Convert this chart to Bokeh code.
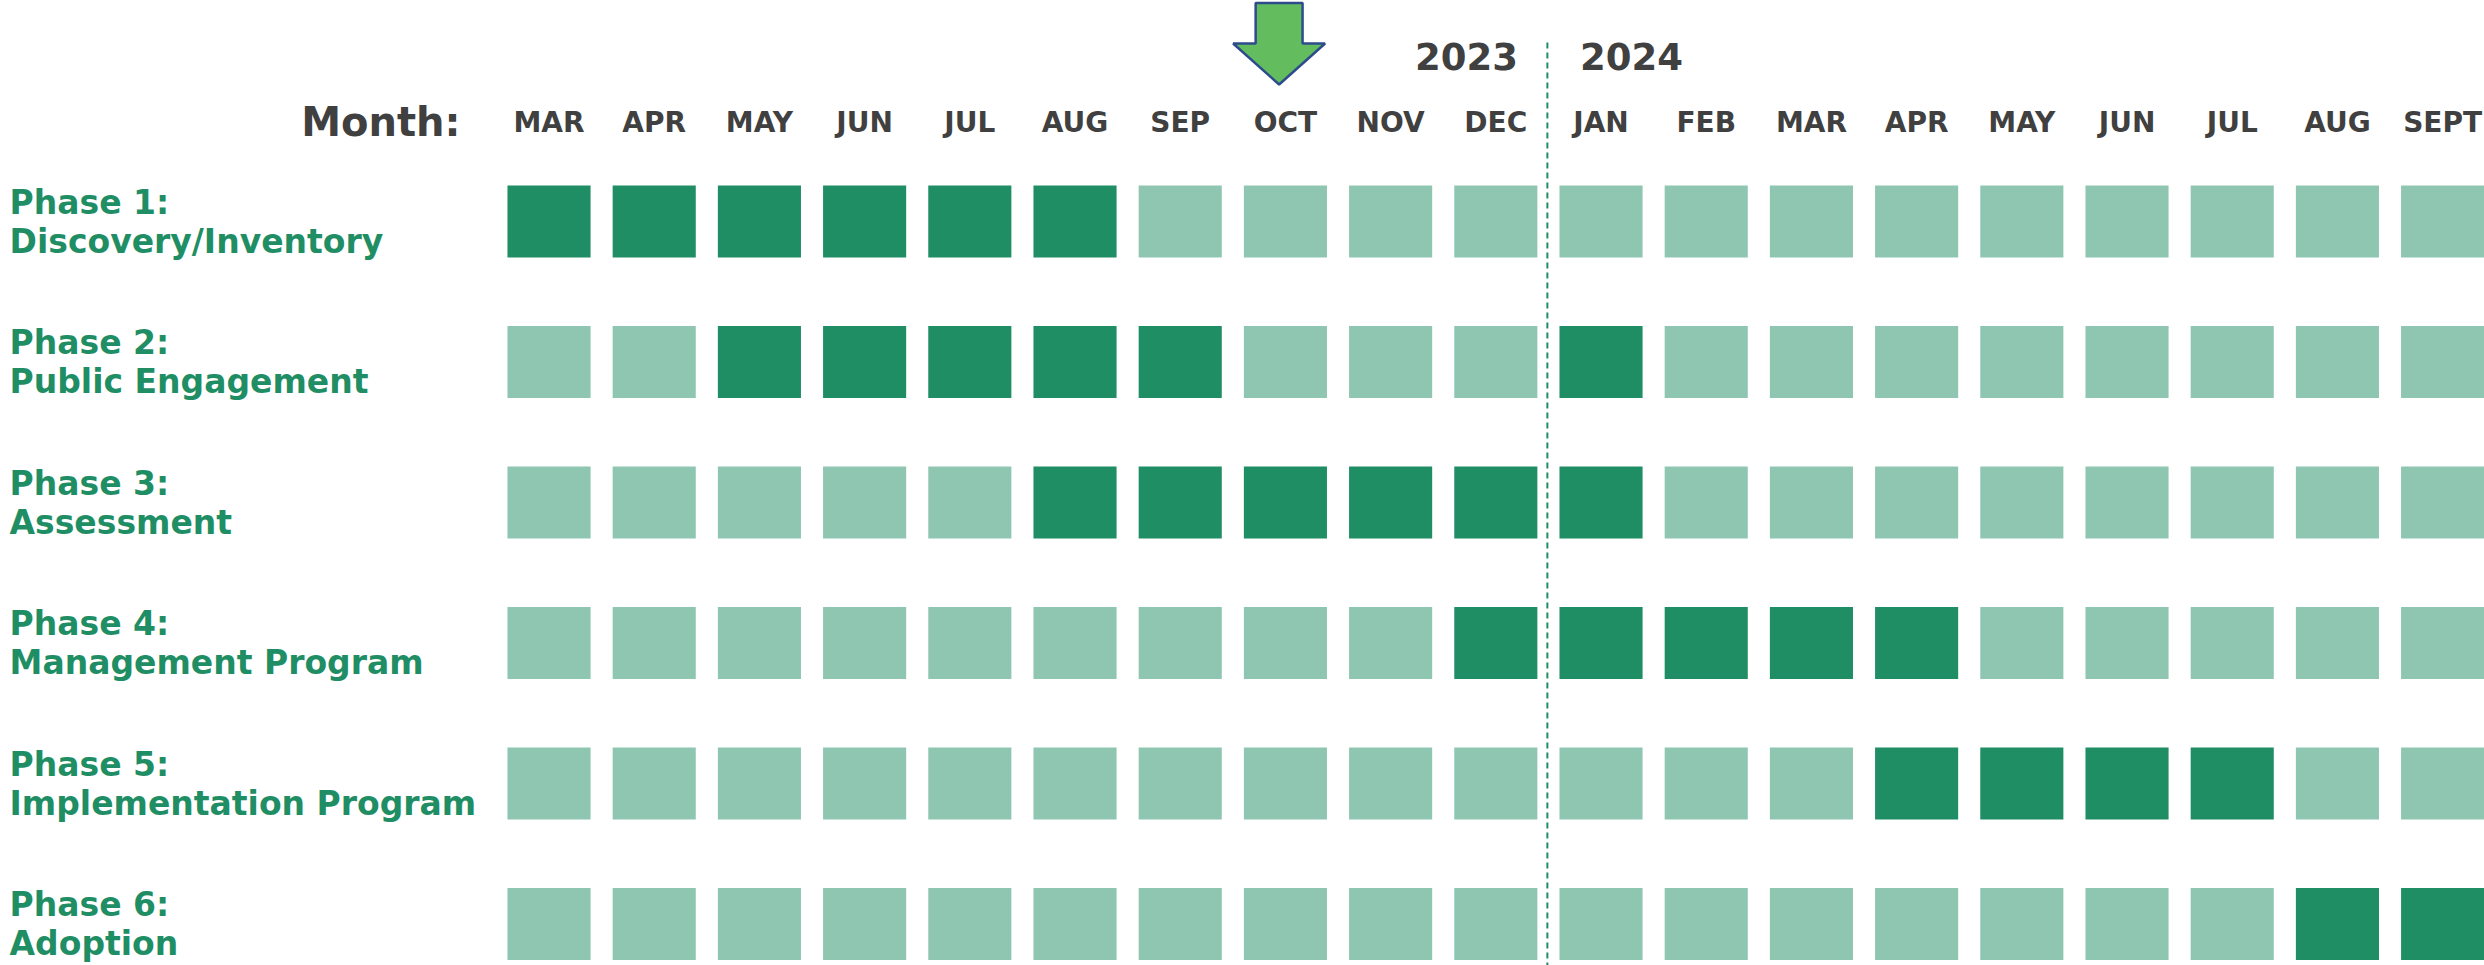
from bokeh.plotting import figure
from bokeh.models import Range1d, ColumnDataSource
from bokeh.core.properties import value
from bokeh.embed import file_html
from bokeh.resources import INLINE

# ---------------- data ----------------
months = ["MAR", "APR", "MAY", "JUN", "JUL", "AUG", "SEP", "OCT", "NOV", "DEC",
          "JAN", "FEB", "MAR", "APR", "MAY", "JUN", "JUL", "AUG", "SEPT"]
years = ["2023", "2024"]
year_break_after = 9          # DEC 2023 is the last month of 2023
current_month_index = 7       # OCT (arrow)

phase_titles = ["Phase 1:", "Phase 2:", "Phase 3:", "Phase 4:", "Phase 5:", "Phase 6:"]
phase_names = ["Discovery/Inventory", "Public Engagement", "Assessment",
               "Management Program", "Implementation Program", "Adoption"]

phase1 = [1, 1, 1, 1, 1, 1, 0, 0, 0, 0, 0, 0, 0, 0, 0, 0, 0, 0, 0]
phase2 = [0, 0, 1, 1, 1, 1, 1, 0, 0, 0, 1, 0, 0, 0, 0, 0, 0, 0, 0]
phase3 = [0, 0, 0, 0, 0, 1, 1, 1, 1, 1, 1, 0, 0, 0, 0, 0, 0, 0, 0]
phase4 = [0, 0, 0, 0, 0, 0, 0, 0, 0, 1, 1, 1, 1, 1, 0, 0, 0, 0, 0]
phase5 = [0, 0, 0, 0, 0, 0, 0, 0, 0, 0, 0, 0, 0, 1, 1, 1, 1, 0, 0]
phase6 = [0, 0, 0, 0, 0, 0, 0, 0, 0, 0, 0, 0, 0, 0, 0, 0, 0, 1, 1]
schedule = [phase1, phase2, phase3, phase4, phase5, phase6]

# ---------------- styles ----------------
DARK = "#1F8E64"
LIGHT = "#8FC6B1"
GRAY = "#404040"
FONT = value("DejaVu Sans")

# ---------------- figure ----------------
p = figure(width=2484, height=965, output_backend="svg", toolbar_location=None,
           x_range=Range1d(-5.214, 18.398), y_range=Range1d(5.295, -1.573),
           min_border=0, outline_line_color=None, background_fill_color="white",
           border_fill_color="white")
p.axis.visible = False
p.xgrid.visible = False
p.ygrid.visible = False

xs, ys, cols = [], [], []
for i, row in enumerate(schedule):
    for j, v in enumerate(row):
        xs.append(j)
        ys.append(i)
        cols.append(DARK if v else LIGHT)
src = ColumnDataSource(dict(x=xs, y=ys, c=cols))
p.rect(x="x", y="y", width=0.79, height=0.5125, fill_color="c", line_color=None, source=src)

# year divider
xdiv = year_break_after + 0.49
p.segment(x0=[xdiv], y0=[-1.274], x1=[xdiv], y1=[5.4], line_color=DARK,
          line_width=2, line_dash="6 4")

# month labels
msrc = ColumnDataSource(dict(x=list(range(len(months))), y=[-0.706] * len(months), t=months))
p.text(x="x", y="y", text="t", source=msrc, text_align="center", text_baseline="alphabetic",
       text_font=FONT, text_font_style="bold", text_font_size=value("28px"), text_color=GRAY)

p.text(x=[-0.841], y=[-0.706], text=["Month:"], text_align="right", text_baseline="alphabetic",
       text_font=FONT, text_font_style="bold", text_font_size=value("40px"), text_color=GRAY)

# year labels
p.text(x=[xdiv - 0.28], y=[-1.178], text=[years[0]], text_align="right", text_baseline="alphabetic",
       text_font=FONT, text_font_style="bold", text_font_size=value("37px"), text_color=GRAY)
p.text(x=[xdiv + 0.31], y=[-1.178], text=[years[1]], text_align="left", text_baseline="alphabetic",
       text_font=FONT, text_font_style="bold", text_font_size=value("37px"), text_color=GRAY)

# phase labels
n = len(phase_titles)
p.text(x=[-5.128] * n, y=[i - 0.137 for i in range(n)], text=phase_titles, text_align="left",
       text_baseline="alphabetic", text_font=FONT, text_font_style="bold",
       text_font_size=value("33px"), text_color=DARK)
p.text(x=[-5.128] * n, y=[i + 0.1406 for i in range(n)], text=phase_names, text_align="left",
       text_baseline="alphabetic", text_font=FONT, text_font_style="bold",
       text_font_size=value("33px"), text_color=DARK)

# current-month arrow
cx = current_month_index - 0.06
sw, hw = 0.223, 0.437
top, neck, tip = -1.555, -1.267, -0.975
ax = [cx - sw, cx + sw, cx + sw, cx + hw, cx, cx - hw, cx - sw]
ay = [top, top, neck, neck, tip, neck, neck]
p.patch(ax, ay, fill_color="#63BD5F", line_color="#2E4C8C", line_width=2.5)

open("out.html", "w").write(file_html(p, INLINE))
